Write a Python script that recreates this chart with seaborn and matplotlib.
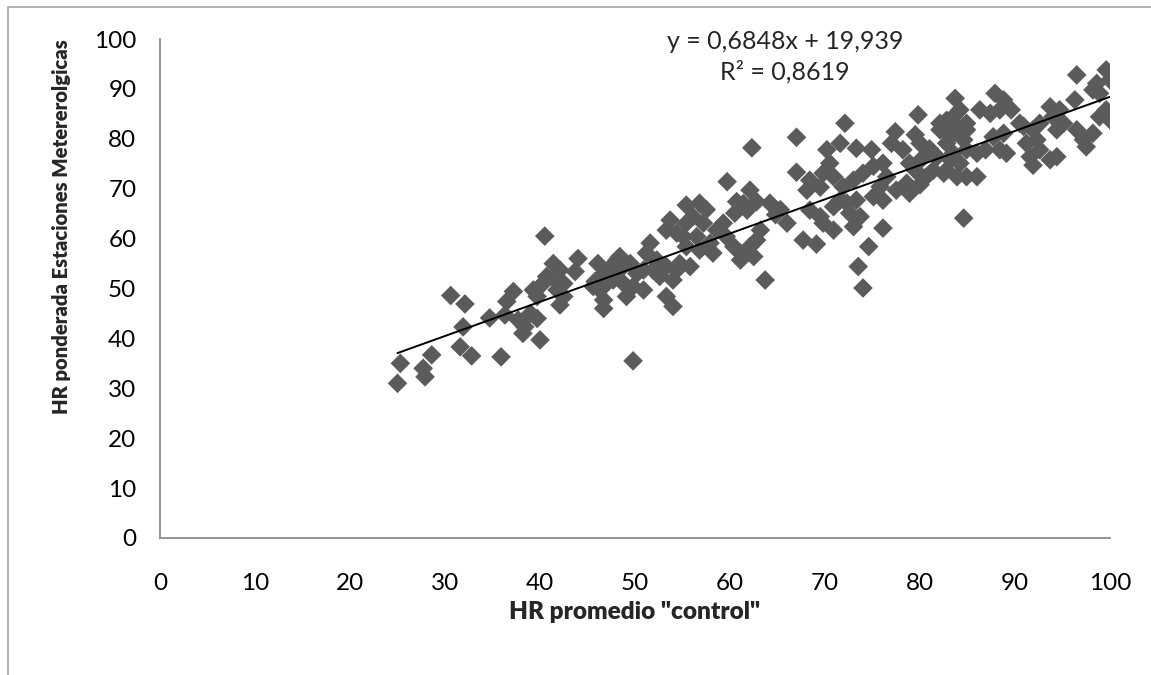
import numpy as np
import pandas as pd
import matplotlib
matplotlib.use("Agg")
import matplotlib.pyplot as plt
import seaborn as sns
from matplotlib.patches import Rectangle

# ---- data ----
hr_control = [
    25.0, 25.3, 27.7, 27.9, 28.6, 30.6, 31.6, 31.9, 32.1, 32.8, 34.7, 35.9, 36.3, 36.5, 37.2, 37.7, 38.4, 38.2, 39.7, 39.0,
    40.0, 39.3, 40.3, 39.7, 40.5, 41.4, 42.1, 40.7, 41.6, 42.5, 41.8, 42.5, 42.1, 44.0, 43.7, 46.1, 46.7, 45.8, 46.3, 46.7,
    46.7, 47.5, 47.7, 48.1, 49.8, 51.6, 51.2, 52.3, 51.9, 53.3, 54.4, 54.7, 55.8, 52.6, 54.0, 50.9, 50.2, 49.5, 48.4, 47.4,
    47.0, 48.8, 49.8, 50.9, 53.3, 54.0, 55.4, 56.8, 57.5, 56.1, 57.2, 55.4, 53.7, 53.3, 54.4, 55.1, 55.4, 56.5, 56.8, 57.9,
    58.2, 58.6, 59.3, 59.6, 60.4, 61.1, 62.1, 62.8, 63.2, 62.5, 61.1, 59.7, 62.1, 60.7, 61.4, 60.5, 61.8, 62.8, 64.2, 65.3,
    66.0, 67.0, 68.4, 67.7, 69.1, 63.7, 62.3, 67.0, 45.6, 48.4, 49.1, 64.8,
    72.1, 79.8, 71.6, 73.3, 74.9, 77.4, 77.0, 79.5, 78.2, 78.9, 70.2, 70.5, 69.8, 70.9, 69.5, 68.1, 68.4, 69.5, 70.9, 72.3,
    71.9, 73.0, 74.0, 75.1, 76.1, 76.5, 75.8, 75.1, 76.1, 77.5, 78.6, 78.9, 73.3, 73.7, 72.6, 71.6, 69.8, 70.9, 73.0, 76.1,
    74.6, 73.5, 74.0, 82.5, 83.5, 82.8, 81.8, 83.2, 82.5, 83.9, 81.4, 80.0, 84.2, 82.8, 82.1, 83.2, 83.9, 84.9, 84.6,
    80.2, 80.6, 79.6, 81.0, 80.0,
    96.5, 99.6, 100.0, 98.6, 98.2, 98.9, 96.3, 99.6, 100.0, 98.9, 96.5, 97.2, 98.2, 97.5, 93.7, 94.7, 94.0, 95.1, 94.4, 92.6,
    91.9, 90.9, 90.5, 91.2, 92.3, 91.6, 92.6, 91.9, 93.7, 94.4, 87.9, 88.8, 89.6, 88.4, 86.3, 87.4, 87.7, 88.8, 88.4, 89.1,
    86.9, 86.0, 83.7, 83.5, 84.9, 82.8, 82.1, 84.9, 83.5, 84.2, 82.8, 84.9, 86.0, 84.6,
]
hr_ponderada = [
    31.0, 35.0, 34.0, 32.3, 36.7, 48.6, 38.3, 42.3, 46.9, 36.5, 44.1, 36.3, 44.7, 47.4, 49.4, 43.7, 42.3, 41.0, 44.0, 45.0,
    39.7, 49.7, 51.0, 48.4, 60.5, 55.0, 53.7, 52.4, 51.7, 51.0, 49.7, 48.4, 46.7, 56.0, 53.4, 55.0, 53.0, 51.4, 49.7, 47.7,
    46.0, 54.4, 51.7, 55.7, 35.5, 59.1, 57.1, 55.7, 53.7, 54.4, 53.7, 55.0, 54.4, 52.4, 51.7, 53.7, 53.0, 55.0, 56.4, 53.7,
    51.0, 51.0, 50.4, 49.7, 48.4, 46.4, 66.7, 67.1, 65.8, 64.4, 63.1, 63.1, 63.7, 61.7, 61.1, 60.4, 58.4, 60.4, 57.7, 59.1,
    57.1, 61.7, 63.1, 60.4, 58.4, 57.1, 58.4, 59.7, 61.7, 56.4, 55.7, 71.4, 69.7, 67.4, 67.0, 65.1, 65.7, 67.4, 67.1, 65.8,
    63.1, 73.3, 71.7, 59.7, 58.9, 51.7, 78.2, 80.3, 50.4, 53.7, 48.4, 64.8,
    83.1, 84.8, 79.1, 78.1, 77.8, 81.4, 79.1, 80.8, 77.8, 75.1, 77.8, 75.1, 73.1, 72.4, 70.3, 69.7, 65.7, 64.4, 66.4, 67.1,
    70.4, 71.7, 73.1, 74.5, 75.1, 72.4, 70.4, 68.4, 67.7, 69.7, 71.1, 69.1, 67.7, 64.4, 65.1, 67.7, 63.1, 61.7, 62.4, 62.1,
    58.4, 54.4, 50.1, 82.4, 81.1, 79.1, 76.4, 75.8, 73.1, 72.4, 73.7, 79.1, 85.8, 83.7, 81.8, 80.4, 82.4, 83.1, 79.8,
    76.0, 72.3, 73.5, 78.0, 70.8,
    92.8, 93.8, 91.8, 91.1, 89.8, 89.1, 87.8, 85.8, 83.8, 84.4, 81.8, 79.8, 81.1, 78.4, 86.4, 85.8, 84.4, 83.1, 81.8, 83.1,
    81.8, 82.5, 83.1, 79.1, 79.8, 76.4, 77.8, 74.7, 75.8, 76.4, 89.1, 87.8, 85.8, 85.8, 85.8, 85.1, 80.4, 81.1, 77.8, 77.1,
    77.8, 77.1, 88.1, 84.4, 81.8, 81.1, 83.1, 77.8, 77.1, 75.1, 73.7, 72.4, 72.4, 64.1,
]
slope = 0.6848
intercept = 19.939
equation_text = "y = 0,6848x + 19,939"
r2_text = "R² = 0,8619"
x_ticks = [0, 10, 20, 30, 40, 50, 60, 70, 80, 90, 100]
y_ticks = [0, 10, 20, 30, 40, 50, 60, 70, 80, 90, 100]
x_label = 'HR promedio "control"'
y_label = "HR ponderada Estaciones Metererolgicas"

df = pd.DataFrame({"x": hr_control, "y": hr_ponderada})

sns.set_theme(style="white")
plt.rcParams["font.family"] = ["Lato", "DejaVu Sans"]

fig = plt.figure(figsize=(11.51, 6.75), dpi=100)
ax = fig.add_axes([160 / 1151, 1 - 538 / 675, 950 / 1151, 499 / 675])

sns.scatterplot(data=df, x="x", y="y", ax=ax, marker="D", s=100,
                color="#5b5b5b", edgecolor="none", linewidth=0, zorder=2)

xl = np.array([min(hr_control), max(hr_control)])
ax.plot(xl, slope * xl + intercept, color="black", linewidth=1.4, zorder=3)

ax.set_xlim(0, 100)
ax.set_ylim(0, 100)
ax.set_xticks(x_ticks)
ax.set_yticks(y_ticks)
ax.tick_params(axis="both", which="major", direction="out", length=7, width=1.2,
               color="#8c8c8c", labelsize=17.5, labelcolor="black")
ax.tick_params(axis="x", pad=18)
ax.tick_params(axis="y", pad=10)
for s in ["top", "right"]:
    ax.spines[s].set_visible(False)
for s in ["left", "bottom"]:
    ax.spines[s].set_color("#8c8c8c")
    ax.spines[s].set_linewidth(1.3)

ax.set_xlabel(x_label, fontsize=17.6, fontweight=800)
ax.set_ylabel(y_label, fontsize=14.6, fontweight=800)
ax.xaxis.set_label_coords((635 - 160) / 950, (538 - 612) / 499)
ax.yaxis.set_label_coords((62 - 160) / 950, (538 - 227) / 499)
ax.xaxis.label.set_va("center")
ax.yaxis.label.set_va("center")

ax.text(65.8, 99.4, equation_text, fontsize=18, ha="center", va="center")
ax.text(65.8, 93.4, r2_text, fontsize=18, ha="center", va="center")

# outer chart border (partially cropped like the reference)
fig.patches.append(Rectangle((8 / 1151, -0.05), 1.1, 1 - 7 / 675 + 0.05,
                             transform=fig.transFigure, fill=False,
                             edgecolor="#a6a6a6", linewidth=1.2))

fig.savefig("out.png", dpi=100)
